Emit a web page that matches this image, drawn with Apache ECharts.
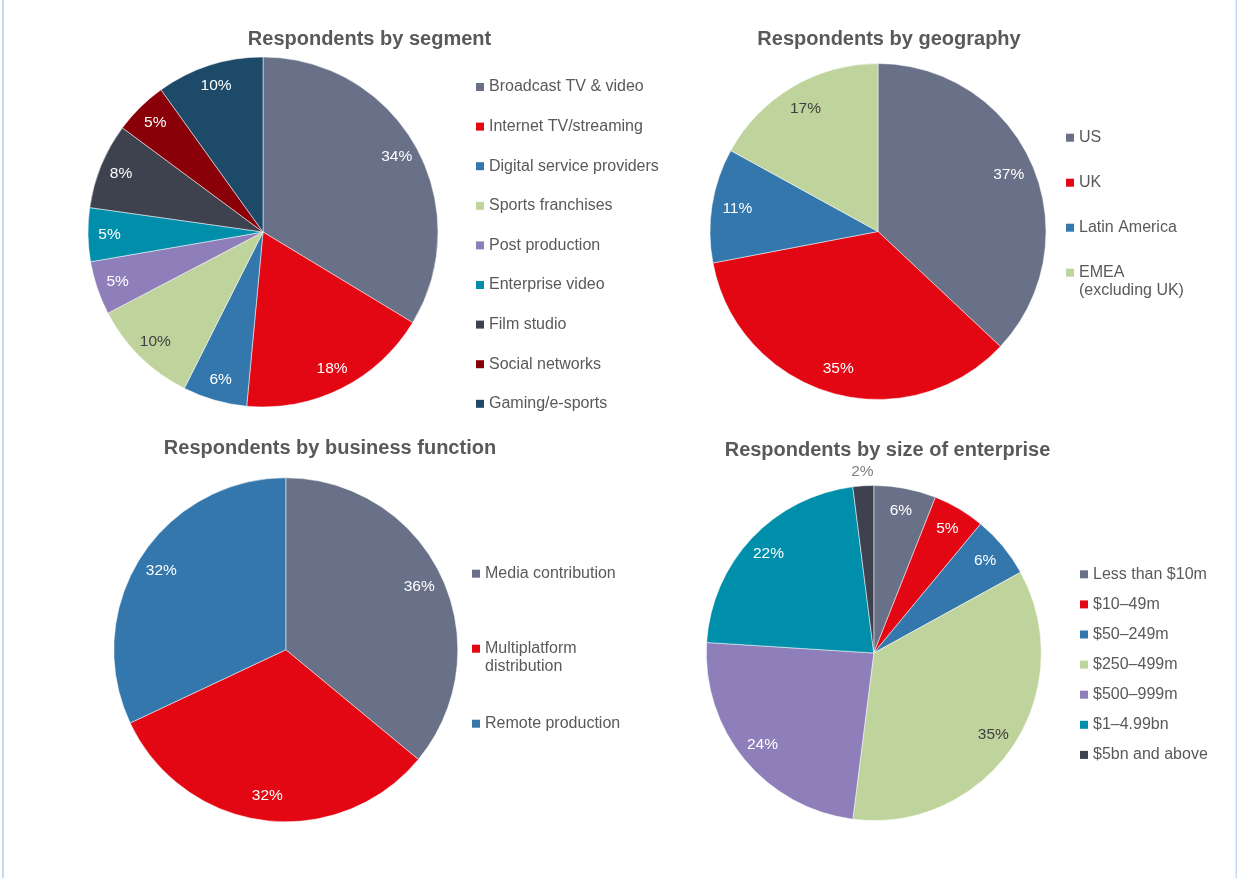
<!DOCTYPE html>
<html>
<head>
<meta charset="utf-8">
<title>Survey respondents</title>
<script src="https://cdn.jsdelivr.net/npm/echarts@6/dist/echarts.min.js"></script>
<style>
  html, body { margin: 0; padding: 0; background: #ffffff; }
  #chart { width: 1237px; height: 878px; }
</style>
</head>
<body>
<div id="chart"></div>
<script>
// ---- Survey shares (percent of respondents) ----
const segmentNames = ['Broadcast TV & video', 'Internet TV/streaming', 'Digital service providers',
  'Sports franchises', 'Post production', 'Enterprise video', 'Film studio', 'Social networks', 'Gaming/e-sports'];
const segmentShares = [34, 18, 6, 10, 5, 5, 8, 5, 10];

const geographyNames = ['US', 'UK', 'Latin America', 'EMEA (excluding UK)'];
const geographyShares = [37, 35, 11, 17];

const functionNames = ['Media contribution', 'Multiplatform distribution', 'Remote production'];
const functionShares = [36, 32, 32];

const sizeNames = ['Less than $10m', '$10–49m', '$50–249m', '$250–499m', '$500–999m', '$1–4.99bn', '$5bn and above'];
const sizeShares = [6, 5, 6, 35, 24, 22, 2];

const chartTitles = ['Respondents by segment', 'Respondents by geography',
  'Respondents by business function', 'Respondents by size of enterprise'];

// Legend entries that break onto two lines
const wrappedLegendText = {
  'EMEA (excluding UK)': 'EMEA\n(excluding UK)',
  'Multiplatform distribution': 'Multiplatform\ndistribution'
};

// ---- Palette ----
const C = {
  slate: '#697188', red: '#E30613', blue: '#3377AD', green: '#BFD49C', purple: '#8E7FBA',
  teal: '#008FAB', charcoal: '#3E414E', maroon: '#8A0008', navy: '#1E4A6A'
};
const segmentColors = [C.slate, C.red, C.blue, C.green, C.purple, C.teal, C.charcoal, C.maroon, C.navy];
const geographyColors = [C.slate, C.red, C.blue, C.green];
const functionColors = [C.slate, C.red, C.blue];
const sizeColors = [C.slate, C.red, C.blue, C.green, C.purple, C.teal, C.charcoal];

const FONT = 'Liberation Sans, Arial, Helvetica, sans-serif';
const TEXT_GREY = '#595959';
const SMALL_SHARE = 3;   // slices below this get their label outside the pie

function labelColorFor(color) {
  return color === C.green ? '#404040' : '#ffffff';
}

// One pie = coloured slices + a transparent ring that carries the value labels
// near the rim + an outer ring for labels of very thin slices.
function pieSeries(names, values, colors, center, r, labelInner) {
  const base = {
    type: 'pie',
    center: center,
    startAngle: 90,
    clockwise: true,
    silent: true,
    animation: false,
    emphasis: { disabled: true },
    labelLine: { show: false }
  };
  const slices = Object.assign({}, base, {
    radius: [0, r],
    itemStyle: { borderColor: '#ffffff', borderWidth: 0.5 },
    label: { show: false },
    data: names.map((n, i) => ({ name: n, value: values[i], itemStyle: { color: colors[i] } }))
  });
  const rimLabels = Object.assign({}, base, {
    radius: [r * labelInner, r],
    itemStyle: { color: 'transparent', borderWidth: 0 },
    label: {
      show: true, position: 'inside', formatter: '{c}%',
      fontFamily: FONT, fontSize: 15.5
    },
    data: names.map((n, i) => ({
      name: n, value: values[i],
      label: { show: values[i] >= SMALL_SHARE, color: labelColorFor(colors[i]) }
    }))
  });
  const list = [slices, rimLabels];
  if (values.some(v => v < SMALL_SHARE)) {
    list.push(Object.assign({}, base, {
      radius: [r, r * 1.13],
      itemStyle: { color: 'transparent', borderWidth: 0 },
      label: {
        show: false, position: 'inside', formatter: '{c}%',
        fontFamily: FONT, fontSize: 15.5, color: '#7F7F7F'
      },
      data: names.map((n, i) => ({
        name: n, value: values[i], label: { show: values[i] < SMALL_SHARE }
      }))
    }));
  }
  return list;
}

function legendBlock(names, left, top, gap) {
  return {
    orient: 'vertical',
    left: left, top: top,
    padding: 0,
    itemWidth: 8, itemHeight: 8, itemGap: gap,
    icon: 'rect',
    selectedMode: false,
    itemStyle: { borderWidth: 0 },
    data: names,
    // keep the first line of a wrapped entry level with its swatch
    formatter: name => wrappedLegendText[name] ? '\n' + wrappedLegendText[name] : name,
    textStyle: { fontFamily: FONT, fontSize: 16, color: TEXT_GREY, lineHeight: 18 }
  };
}

function titleBlock(text, x, y) {
  return {
    text: text, left: x, top: y, textAlign: 'center', padding: 0,
    textStyle: { fontFamily: FONT, fontSize: 20, fontWeight: 'bold', color: TEXT_GREY }
  };
}

const option = {
  backgroundColor: '#ffffff',
  animation: false,
  title: [
    titleBlock(chartTitles[0], 369.5, 29),
    titleBlock(chartTitles[1], 889, 29),
    titleBlock(chartTitles[2], 330, 438.3),
    titleBlock(chartTitles[3], 887.5, 440.7)
  ],
  legend: [
    legendBlock(segmentNames, 476, 78, 21.6),
    legendBlock(geographyNames.slice(0, 3), 1066, 128.7, 27),
    legendBlock(geographyNames.slice(3), 1066, 245.7, 0),
    legendBlock(functionNames, 472, 564.7, 39),
    legendBlock(sizeNames, 1080, 565.3, 12.1)
  ],
  graphic: [
    { type: 'rect', silent: true, shape: { x: 2, y: 0, width: 2, height: 878 }, style: { fill: '#C6D9F1' } },
    { type: 'rect', silent: true, shape: { x: 1235.5, y: 0, width: 1.5, height: 878 }, style: { fill: '#C6D9F1' } }
  ],
  series: [].concat(
    pieSeries(segmentNames, segmentShares, segmentColors, [263, 232], 175, 0.72),
    pieSeries(geographyNames, geographyShares, geographyColors, [878, 231.5], 168, 0.66),
    pieSeries(functionNames, functionShares, functionColors, [285.8, 649.8], 172, 0.68),
    pieSeries(sizeNames, sizeShares, sizeColors, [873.8, 653], 167.5, 0.69)
  )
};

const chart = echarts.init(document.getElementById('chart'), null, { renderer: 'canvas', width: 1237, height: 878 });
chart.setOption(option);
</script>
</body>
</html>
